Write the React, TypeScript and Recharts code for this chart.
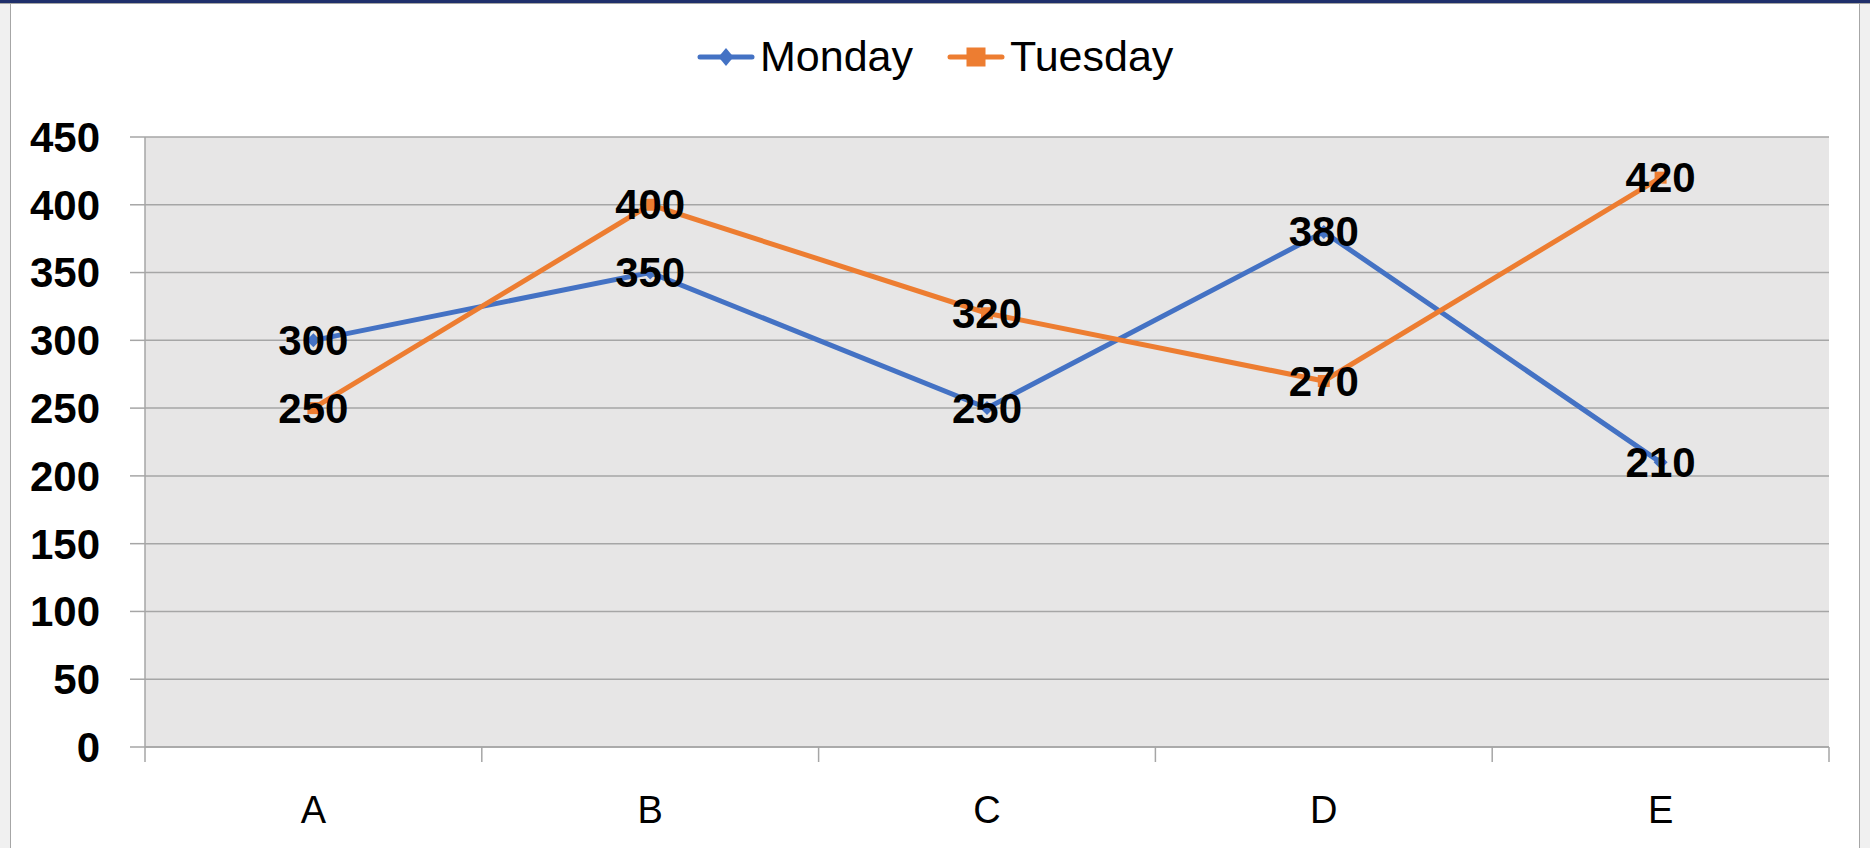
import React from "react";
import { LineChart, Line, XAxis, YAxis, CartesianGrid, Legend, LabelList } from "recharts";

const categories = ["A", "B", "C", "D", "E"];
const monday = [300, 350, 250, 380, 210];
const tuesday = [250, 400, 320, 270, 420];
const yTicks = [0, 50, 100, 150, 200, 250, 300, 350, 400, 450];

const data = categories.map((c, i) => ({ name: c, Monday: monday[i], Tuesday: tuesday[i] }));

const BLUE = "#4472C4";
const ORANGE = "#ED7D31";
const GRID = "#A6A6A6";
const FONT = "'Liberation Sans', Arial, sans-serif";

const W = 1870;
const H = 848;
const M = { top: 137, right: 41, bottom: 0, left: 0 };
const Y_W = 145;
const X_H = 101;
const BAND = (W - M.left - M.right - Y_W) / categories.length;

const XTick = (props: any) => {
  const { x, y, payload, index } = props;
  return (
    <g>
      <line x1={x - BAND / 2} x2={x - BAND / 2} y1={y} y2={y + 15} stroke={GRID} strokeWidth={1.5} />
      {index === categories.length - 1 && (
        <line x1={x + BAND / 2} x2={x + BAND / 2} y1={y} y2={y + 15} stroke={GRID} strokeWidth={1.5} />
      )}
      <text x={x} y={y + 76} textAnchor="middle" fontSize={38} fontFamily={FONT} fill="#000">
        {payload.value}
      </text>
    </g>
  );
};

const Diamond = (props: any) => {
  const { cx, cy } = props;
  if (cx == null || cy == null) return null;
  const r = 7;
  return <path d={`M${cx},${cy - r}L${cx + r},${cy}L${cx},${cy + r}L${cx - r},${cy}Z`} fill={BLUE} />;
};

const Square = (props: any) => {
  const { cx, cy } = props;
  if (cx == null || cy == null) return null;
  const r = 6;
  return <rect x={cx - r} y={cy - r} width={2 * r} height={2 * r} fill={ORANGE} />;
};

const ValueLabel = (props: any) => {
  const { x, y, value } = props;
  return (
    <text
      x={x}
      y={y}
      textAnchor="middle"
      dominantBaseline="central"
      fontSize={42}
      fontWeight="bold"
      fontFamily={FONT}
      fill="#000"
    >
      {value}
    </text>
  );
};

const LegendContent = () => {
  const items = [
    { name: "Monday", color: BLUE, shape: "diamond" },
    { name: "Tuesday", color: ORANGE, shape: "square" },
  ];
  return (
    <div style={{ display: "flex", alignItems: "center", fontFamily: FONT, fontSize: 43, color: "#000" }}>
      {items.map((it, i) => (
        <div key={it.name} style={{ display: "flex", alignItems: "center", marginLeft: i === 0 ? 0 : 34 }}>
          <svg width={58} height={24} style={{ display: "block" }}>
            <line x1={3} x2={55} y1={12} y2={12} stroke={it.color} strokeWidth={5} strokeLinecap="round" />
            {it.shape === "diamond" ? (
              <path d="M29,3L36.5,12L29,21L21.5,12Z" fill={it.color} />
            ) : (
              <rect x={19.5} y={2.5} width={19} height={19} fill={it.color} />
            )}
          </svg>
          <span style={{ marginLeft: 5, lineHeight: 1 }}>{it.name}</span>
        </div>
      ))}
    </div>
  );
};

export default function App() {
  return (
    <div style={{ position: "absolute", left: 0, top: 0, width: W, height: H, background: "#fff", overflow: "hidden" }}>
      <div style={{ position: "absolute", left: 0, top: 0, width: 10, height: H, background: "#F0F0F0", borderRight: "1px solid #A6A6A6" }} />
      <div style={{ position: "absolute", left: 1859, top: 0, width: W - 1859, height: H, background: "#F0F0F0", borderLeft: "1px solid #A6A6A6" }} />
      <div style={{ position: "absolute", left: 0, top: 0, width: W, height: 3, background: "#1F2F6B" }} />
      <div style={{ position: "absolute", left: 0, top: 3, width: W, height: 1, background: "#A6A6A6" }} />
      <div style={{ position: "absolute", left: 0, top: 0 }}>
        <LineChart width={W} height={H} data={data} margin={M}>
          <CartesianGrid vertical={false} stroke={GRID} strokeWidth={1.5} fill="#E7E6E6" />
          <XAxis
            dataKey="name"
            height={X_H}
            padding={{ left: BAND / 2, right: BAND / 2 }}
            axisLine={{ stroke: GRID, strokeWidth: 1.5 }}
            tickLine={false}
            tickSize={0}
            tickMargin={0}
            tick={<XTick />}
            interval={0}
          />
          <YAxis
            width={Y_W}
            domain={[0, 450]}
            ticks={yTicks}
            interval={0}
            axisLine={{ stroke: GRID, strokeWidth: 1.5 }}
            tickLine={{ stroke: GRID, strokeWidth: 1.5 }}
            tickSize={15}
            tickMargin={30}
            tick={{ fontSize: 42, fontWeight: "bold", fontFamily: FONT, fill: "#000" }}
          />
          <Legend
            layout="horizontal"
            verticalAlign="middle"
            align="center"
            content={<LegendContent />}
            wrapperStyle={{ top: 35, left: 697, width: "auto" }}
          />
          <Line
            dataKey="Monday"
            stroke={BLUE}
            strokeWidth={5}
            strokeLinecap="round"
            dot={<Diamond />}
            activeDot={false}
            isAnimationActive={false}
          >
            <LabelList dataKey="Monday" content={<ValueLabel />} />
          </Line>
          <Line
            dataKey="Tuesday"
            stroke={ORANGE}
            strokeWidth={5}
            strokeLinecap="round"
            dot={<Square />}
            activeDot={false}
            isAnimationActive={false}
          >
            <LabelList dataKey="Tuesday" content={<ValueLabel />} />
          </Line>
        </LineChart>
      </div>
    </div>
  );
}
